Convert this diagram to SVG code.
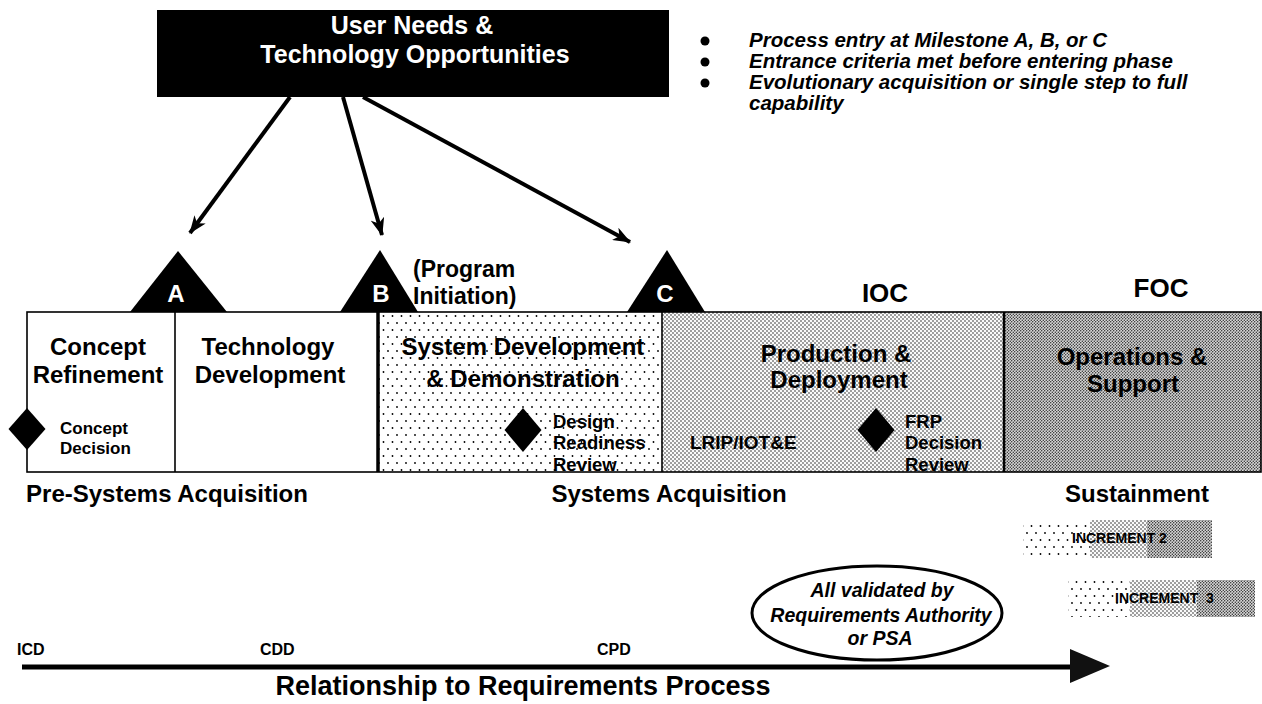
<svg xmlns="http://www.w3.org/2000/svg" width="1262" height="704" viewBox="0 0 1262 704">
<style>
text{font-family:"Liberation Sans",Arial,sans-serif;font-weight:bold;fill:#000}
.big{font-size:24px}
.sm{font-size:18.5px}
.it{font-style:italic}
.w{fill:#fff}
.mid{text-anchor:middle}
.edge{fill:none;stroke:#000;stroke-width:1.6}
.conn{stroke:#000;stroke-width:4;fill:none}
</style>
<defs>
<pattern id="sparse" width="9" height="14" patternUnits="userSpaceOnUse">
<rect width="9" height="14" fill="#fff"/>
<circle cx="1" cy="1" r="0.9" fill="#000"/>
<circle cx="5.5" cy="8" r="0.9" fill="#000"/>
</pattern>
<pattern id="medium" width="4" height="4" patternUnits="userSpaceOnUse">
<rect width="4" height="4" fill="#fafafa"/>
<circle cx="1" cy="1" r="0.72" fill="#111"/>
<circle cx="3" cy="3" r="0.72" fill="#111"/>
</pattern>
<pattern id="dense" width="3" height="3" patternUnits="userSpaceOnUse">
<rect width="3" height="3" fill="#d8d8d8"/>
<circle cx="0.75" cy="0.75" r="0.65" fill="#111"/>
<circle cx="2.25" cy="2.25" r="0.65" fill="#111"/>
</pattern>
<marker id="ah" markerUnits="userSpaceOnUse" markerWidth="18" markerHeight="14" refX="17" refY="7" orient="auto">
<path d="M0,0 L18,7 L0,14 L5,7 Z" fill="#000"/>
</marker>
</defs>

<g id="user-needs">
<rect x="157" y="10" width="512" height="87" fill="#000"/>
<text class="w mid" x="412" y="34" font-size="25">User Needs &amp;</text>
<text class="w mid" x="415" y="63" font-size="25">Technology Opportunities</text>
</g>

<g id="bullets">
<circle cx="705" cy="41" r="4.5" fill="#000"/>
<circle cx="705" cy="62" r="4.5" fill="#000"/>
<circle cx="705" cy="83" r="4.5" fill="#000"/>
<text class="it" x="749" y="47" font-size="20.5">Process entry at Milestone A, B, or C</text>
<text class="it" x="749" y="68" font-size="20.5">Entrance criteria met before entering phase</text>
<text class="it" x="749" y="89" font-size="20.5">Evolutionary acquisition or single step to full</text>
<text class="it" x="749" y="110" font-size="20.5">capability</text>
</g>

<g id="connectors">
<line class="conn" x1="290" y1="97" x2="190" y2="233" marker-end="url(#ah)"/>
<line class="conn" x1="343" y1="97" x2="382" y2="235" marker-end="url(#ah)"/>
<line class="conn" x1="363" y1="97" x2="630" y2="242" marker-end="url(#ah)"/>
</g>

<g id="phase-boxes">
<rect x="377" y="312" width="285" height="160" fill="url(#sparse)"/>
<rect x="662" y="312" width="343" height="160" fill="url(#medium)"/>
<rect x="1005" y="312" width="256" height="160" fill="url(#dense)"/>
<rect class="edge" x="27" y="312" width="1234" height="160"/>
<line x1="175" y1="312" x2="175" y2="472" stroke="#000" stroke-width="1.6"/>
<line x1="378" y1="312" x2="378" y2="472" stroke="#000" stroke-width="3.5"/>
<line x1="662" y1="312" x2="662" y2="472" stroke="#000" stroke-width="1.6"/>
<line x1="1004" y1="312" x2="1004" y2="472" stroke="#000" stroke-width="2.5"/>
</g>

<g id="milestone-a">
<polygon points="130,312 178,251 227,312" fill="#000"/>
<text class="w mid" x="176" y="302" font-size="24">A</text>
</g>
<g id="milestone-b">
<polygon points="340,312 380,250 418,312" fill="#000"/>
<text class="w mid" x="381" y="302" font-size="24">B</text>
<text x="413" y="277" font-size="23">(Program</text>
<text x="413" y="304" font-size="23">Initiation)</text>
</g>
<g id="milestone-c">
<polygon points="627,312 667,250 705,312" fill="#000"/>
<text class="w mid" x="665" y="302" font-size="24">C</text>
</g>
<g id="ioc"><text class="mid" x="885" y="302" font-size="26">IOC</text></g>
<g id="foc"><text class="mid" x="1161" y="297" font-size="26">FOC</text></g>

<g id="concept-refinement">
<text class="big mid" x="98" y="355">Concept</text>
<text class="big mid" x="98" y="383">Refinement</text>
</g>
<g id="concept-decision">
<polygon points="27,408 45.5,429 27,450 8.5,429" fill="#000"/>
<text x="60" y="434" font-size="17">Concept</text>
<text x="60" y="454" font-size="17">Decision</text>
</g>
<g id="technology-development">
<text class="big mid" x="268" y="355">Technology</text>
<text class="big mid" x="270" y="383">Development</text>
</g>
<g id="sdd">
<text class="big mid" x="523" y="355">System Development</text>
<text class="big mid" x="523" y="387">&amp; Demonstration</text>
</g>
<g id="design-readiness-review">
<polygon points="523,408 541.5,430 523,452 504.5,430" fill="#000"/>
<text class="sm" x="553" y="428">Design</text>
<text class="sm" x="553" y="449">Readiness</text>
<text class="sm" x="553" y="471">Review</text>
</g>
<g id="production-deployment">
<text class="big mid" x="836" y="362">Production &amp;</text>
<text class="big mid" x="839" y="388">Deployment</text>
<text x="690" y="449" font-size="19">LRIP/IOT&amp;E</text>
</g>
<g id="frp-decision-review">
<polygon points="876,408 894.5,430 876,452 857.5,430" fill="#000"/>
<text class="sm" x="905" y="428">FRP</text>
<text class="sm" x="905" y="449">Decision</text>
<text class="sm" x="905" y="471">Review</text>
</g>
<g id="operations-support">
<text class="big mid" x="1132" y="365">Operations &amp;</text>
<text class="big mid" x="1133" y="392">Support</text>
</g>

<g id="phase-groups">
<text class="mid" x="167" y="502" font-size="24">Pre-Systems Acquisition</text>
<text class="mid" x="669" y="502" font-size="24">Systems Acquisition</text>
<text class="mid" x="1137" y="502" font-size="24">Sustainment</text>
</g>

<g id="increment-2">
<rect x="1023" y="520" width="67" height="38" fill="url(#sparse)"/>
<rect x="1090" y="520" width="57" height="38" fill="url(#medium)"/>
<rect x="1147" y="520" width="65" height="38" fill="url(#dense)"/>
<text x="1072" y="543" font-size="14">INCREMENT 2</text>
</g>
<g id="increment-3">
<rect x="1068" y="580" width="62" height="37" fill="url(#sparse)"/>
<rect x="1130" y="580" width="67" height="37" fill="url(#medium)"/>
<rect x="1197" y="580" width="58" height="37" fill="url(#dense)"/>
<text x="1115" y="603" font-size="14" xml:space="preserve">INCREMENT  3</text>
</g>

<g id="requirements-arrow">
<line x1="22" y1="667" x2="1075" y2="667" stroke="#000" stroke-width="5"/>
<polygon points="1070,649 1110,666 1070,683" fill="#111"/>
<text x="17" y="655" font-size="16">ICD</text>
<text x="260" y="655" font-size="16">CDD</text>
<text x="597" y="655" font-size="16">CPD</text>
<text class="mid" x="523" y="695" font-size="27">Relationship to Requirements Process</text>
</g>

<g id="validated">
<ellipse cx="877" cy="613" rx="125" ry="47" fill="#fff" stroke="#000" stroke-width="3"/>
<text class="it mid" x="882" y="597" font-size="19.5">All validated by</text>
<text class="it mid" x="881" y="622" font-size="19.5">Requirements Authority</text>
<text class="it mid" x="880" y="645" font-size="19.5">or PSA</text>
</g>
</svg>
